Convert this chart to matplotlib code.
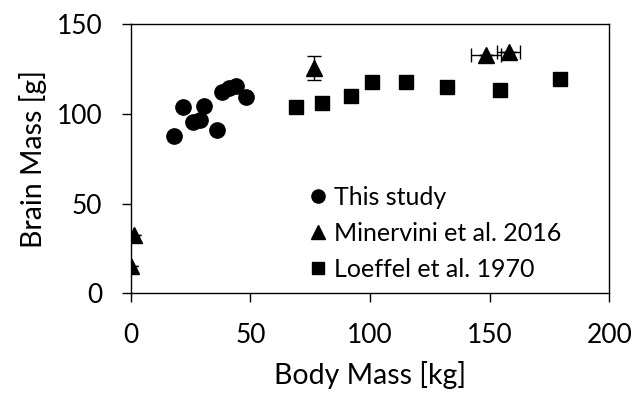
import matplotlib
matplotlib.use("Agg")
import matplotlib.pyplot as plt
from matplotlib.lines import Line2D

plt.rcParams['font.family'] = ['Lato', 'DejaVu Sans']

# This study
study_x = [18, 22, 26, 29, 30.5, 36, 38, 41, 44, 48]
study_y = [87.6, 104, 95.6, 96.5, 104.5, 91, 112.3, 114.2, 115.5, 109.5]

# Minervini et al. 2016
minerv_x = [0.2, 1.2, 76.5, 148.5, 158]
minerv_y = [15, 32.5, 125.5, 132.8, 134.6]
minerv_xerr = [0, 0, 0, 6.2, 4.8]
minerv_yerr = [0, 0, 6.6, 0, 0]

# Loeffel et al. 1970
loef_x = [69, 80, 92, 101, 115, 132, 154.5, 179.5]
loef_y = [104, 105.8, 109.9, 117.9, 117.9, 114.7, 113.3, 119.2]

labels = ['This study', 'Minervini et al. 2016', 'Loeffel et al. 1970']

fig = plt.figure(figsize=(6.44, 3.95), dpi=100)
ax = fig.add_axes([0.203, 0.2575, 0.743, 0.6815])

ms = 11
ax.plot(study_x, study_y, 'o', color='black', ms=ms, mec='black', zorder=3)
ax.errorbar(minerv_x, minerv_y, xerr=minerv_xerr, yerr=minerv_yerr, fmt='^', color='black',
            ms=ms, ecolor='black', elinewidth=1, capsize=5, capthick=1, zorder=4)
ax.plot(loef_x, loef_y, 's', color='black', ms=ms - 0.5, mec='black', zorder=3)

ax.set_xlim(0, 200)
ax.set_ylim(0, 150)
ax.set_xticks([0, 50, 100, 150, 200])
ax.set_yticks([0, 50, 100, 150])
ax.tick_params(direction='out', length=6.5, width=1, labelsize=19, colors='black')
ax.tick_params(axis='y', pad=14)
ax.tick_params(axis='x', pad=15)
for s in ax.spines.values():
    s.set_linewidth(1)
    s.set_color('black')
ax.set_xlabel('Body Mass [kg]', fontsize=20.5, va='center')
ax.set_ylabel('Brain Mass [g]', fontsize=20.5, va='center')
ax.xaxis.set_label_coords(0.5, -0.303)
ax.yaxis.set_label_coords(-0.204, 0.5)

handles = [
    Line2D([], [], ls='none', marker='o', color='black', ms=9.5),
    Line2D([], [], ls='none', marker='^', color='black', ms=9.5),
    Line2D([], [], ls='none', marker='s', color='black', ms=9),
]
leg = ax.legend(handles, labels, loc='upper left', bbox_to_anchor=(0.375, 0.40), frameon=False,
                fontsize=18, handlelength=0.6, handletextpad=0.35, labelspacing=0.52,
                borderaxespad=0, borderpad=0)

fig.savefig('out.png', dpi=100)
